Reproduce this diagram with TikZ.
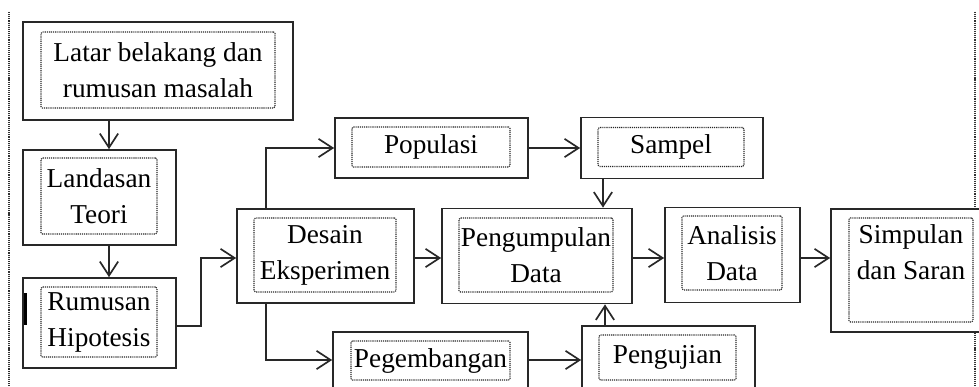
\documentclass[tikz,border=0pt]{standalone}
\usepackage{fontspec}
\setmainfont{Liberation Serif}
\usepackage{tikz}
\usetikzlibrary{arrows.meta, positioning, calc}
\definecolor{boxline}{RGB}{40, 40, 40}

\tikzset{
    outbox/.style 2 args={draw=boxline, line width=1.2pt, fill=white, inner sep=0pt,
        minimum width=#1*0.025cm, minimum height=#2*0.025cm},
    inbox/.style 2 args={draw=black!85, dash pattern={on 0.8pt off 0.7pt}, line width=0.8pt,
        rounded corners=1pt, inner sep=0pt, align=center, font=\fontsize{19.4}{25.6}\selectfont,
        minimum width=#1*0.025cm, minimum height=#2*0.025cm},
    frame/.style={draw=black!80, dash pattern={on 0.8pt off 0.7pt}, line width=0.8pt},
    flow/.style={draw=boxline, line width=1.2pt, ->},
    >={Straight Barb[length=10pt,width=13pt]}
}

\begin{document}
\begin{tikzpicture}[x=0.025cm, y=-0.025cm]
    \useasboundingbox (0,0) rectangle (979,387);

    % Dotted page frame
    \draw[frame] (9,12) -- (9,387);
    \draw[frame] (975,12) -- (975,387);

    % Outer boxes
    \node[outbox={270}{98}] (latar) at (158,71) {};
    \node[outbox={153}{95}] (landasan) at (99.5,197.5) {};
    \node[outbox={153}{90}] (rumusan) at (99.5,323) {};
    \node[outbox={177}{94}] (desain) at (325.5,256) {};
    \node[outbox={193}{60}] (populasi) at (431.5,148) {};
    \node[outbox={195}{56}] (pegembangan) at (430.5,360) {};
    \node[outbox={182}{61}] (sampel) at (672,148) {};
    \node[outbox={190}{95}] (kumpul) at (537,256) {};
    \node[outbox={173}{64}] (pengujian) at (668.5,358) {};
    \node[outbox={135}{95}] (analisis) at (732.5,255) {};
    \node[outbox={160}{123}] (simpulan) at (911,270.5) {};

    % Text boxes
    \node[inbox={234}{76}] (latar-t) at (158,70) {Latar belakang dan\\rumusan masalah};
    \node[inbox={116}{76}] (landasan-t) at (99,196) {Landasan\\Teori};
    \node[inbox={116}{70}] (rumusan-t) at (99,322) {Rumusan\\Hipotesis};
    \node[inbox={142}{74}] (desain-t) at (325,255) {Desain\\Eksperimen};
    \node[inbox={158}{40}] (populasi-t) at (431,147) {Populasi};
    \node[inbox={159}{39}] (pegembangan-t) at (430.5,360.5) {Pegembangan};
    \node[inbox={146}{39}] (sampel-t) at (671,147) {Sampel};
    \node[inbox={154}{74}] (kumpul-t) at (536,255) {Pengumpulan\\Data};
    \node[inbox={137}{45}] (pengujian-t) at (667.5,357.5) {Pengujian};
    \node[inbox={100}{74}] (analisis-t) at (732,253) {Analisis\\Data};
    \node[inbox={124}{104}] (simpulan-t) at (911,270) {Simpulan\\dan Saran\\\mbox{}};

    % Marker bar
    \fill[black] (24,293) rectangle (27,325);

    % Arrows
    \draw[flow] ($(latar.south)+(-49,0)$) -- ($(landasan.north)+(9.5,0)$);
    \draw[flow] ($(landasan.south)+(9.5,0)$) -- ($(rumusan.north)+(9.5,0)$);
    \draw[flow] ($(rumusan.east)+(0,3)$) -- ++(24,0) |- ($(desain.west)+(0,2)$);
    \draw[flow] ($(desain.north)+(-59.5,0)$) |- (populasi.west);
    \draw[flow] ($(desain.south)+(-59.5,0)$) |- (pegembangan.west);
    \draw[flow] ($(desain.east)+(0,2)$) -- ($(kumpul.west)+(0,2)$);
    \draw[flow] (populasi.east) -- (sampel.west);
    \draw[flow] ($(sampel.south)+(-69,0)$) -- ($(kumpul.north)+(66,0)$);
    \draw[flow] (pegembangan.east) -- (pegembangan.east -| pengujian.west);
    \draw[flow] ($(pengujian.north)+(-63.5,0)$) -- ($(kumpul.south)+(68,0)$);
    \draw[flow] ($(kumpul.east)+(0,2)$) -- ($(kumpul.east -| analisis.west)+(0,2)$);
    \draw[flow] ($(analisis.east)+(0,3)$) -- ($(analisis.east -| simpulan.west)+(0,3)$);
\end{tikzpicture}
\end{document}
